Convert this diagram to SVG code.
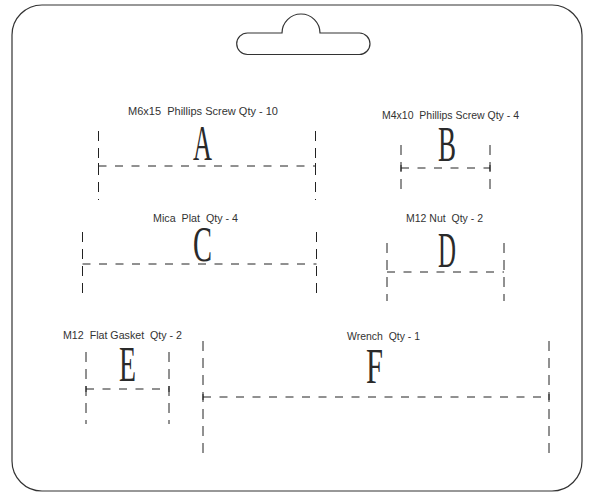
<svg xmlns="http://www.w3.org/2000/svg" width="595" height="494" viewBox="0 0 595 494">
<style>
.outline{fill:none;stroke:#333;stroke-width:1.2}
.v{stroke:#222;stroke-width:1;stroke-dasharray:10,7;fill:none}
.h{stroke:#222;stroke-width:1;stroke-dasharray:8,8.5;fill:none}
.t{stroke:#222;stroke-width:1;fill:none}
.lbl{font-family:"Liberation Sans",Arial,sans-serif;font-size:11px;fill:#333;text-anchor:middle;white-space:pre}
.big{font-family:"Liberation Serif","Times New Roman",serif;font-size:51px;fill:#2a2a2a;text-anchor:middle}
</style>
<rect width="595" height="494" fill="#fff"/>
<g id="card">
<path class="outline" d="M42,5 H552 A30,30 0 0 1 582,35 V461 A30,30 0 0 1 552,491 H42 A30,30 0 0 1 12,461 V35 A30,30 0 0 1 42,5 Z"/>
<path class="outline" d="M247.5,33 H282 A19,19 0 0 1 320,33 H359.5 A10.8,10.8 0 0 1 370,43.8 A10.8,10.8 0 0 1 359.5,54.5 H247.5 A10.8,10.8 0 0 1 236.7,43.8 A10.8,10.8 0 0 1 247.5,33 Z"/>
</g>
<g id="connectors">
<path class="v" d="M98.5,131 V200 M315.5,131 V200"/>
<path class="h" d="M98.5,166 H315.5"/>
<path class="t" d="M98.5,163 V169 M315.5,163 V169"/>
<path class="v" d="M401,145 V191 M490,145 V191"/>
<path class="h" d="M401,168 H490"/>
<path class="t" d="M401,165 V171 M490,165 V171"/>
<path class="v" d="M82.5,232 V298 M316.5,232 V298"/>
<path class="h" d="M82.5,264 H316.5"/>
<path class="v" d="M387,243 V301 M504,243 V301"/>
<path class="h" d="M387,272 H504"/>
<path class="v" d="M86,352 V424 M169,352 V424"/>
<path class="h" d="M86,389 H169"/>
<path class="t" d="M86,386 V392 M169,386 V392"/>
<path class="v" d="M203,341 V453 M549,341 V453"/>
<path class="h" d="M203,397 H549"/>
<path class="t" d="M203,394 V400 M549,394 V400"/>
</g>
<g id="node-A">
<text class="lbl" xml:space="preserve" x="203" y="115" textLength="150" lengthAdjust="spacingAndGlyphs">M6x15  Phillips Screw Qty - 10</text>
<text class="big" x="202.5" y="160" textLength="19" lengthAdjust="spacingAndGlyphs">A</text>
</g>
<g id="node-B">
<text class="lbl" xml:space="preserve" x="450.5" y="119" textLength="137" lengthAdjust="spacingAndGlyphs">M4x10  Phillips Screw Qty - 4</text>
<text class="big" x="447" y="161" textLength="18" lengthAdjust="spacingAndGlyphs">B</text>
</g>
<g id="node-C">
<text class="lbl" xml:space="preserve" x="195.5" y="222" textLength="85" lengthAdjust="spacingAndGlyphs">Mica  Plat  Qty - 4</text>
<text class="big" x="202.5" y="261" textLength="19" lengthAdjust="spacingAndGlyphs">C</text>
</g>
<g id="node-D">
<text class="lbl" xml:space="preserve" x="444.5" y="222" textLength="77" lengthAdjust="spacingAndGlyphs">M12 Nut  Qty - 2</text>
<text class="big" x="447" y="267" textLength="18" lengthAdjust="spacingAndGlyphs">D</text>
</g>
<g id="node-E">
<text class="lbl" xml:space="preserve" x="122.5" y="339" textLength="119" lengthAdjust="spacingAndGlyphs">M12  Flat Gasket  Qty - 2</text>
<text class="big" x="127.5" y="381" textLength="17" lengthAdjust="spacingAndGlyphs">E</text>
</g>
<g id="node-F">
<text class="lbl" xml:space="preserve" x="383.5" y="340" textLength="73" lengthAdjust="spacingAndGlyphs">Wrench  Qty - 1</text>
<text class="big" x="374.5" y="383" textLength="17" lengthAdjust="spacingAndGlyphs">F</text>
</g>
</svg>
